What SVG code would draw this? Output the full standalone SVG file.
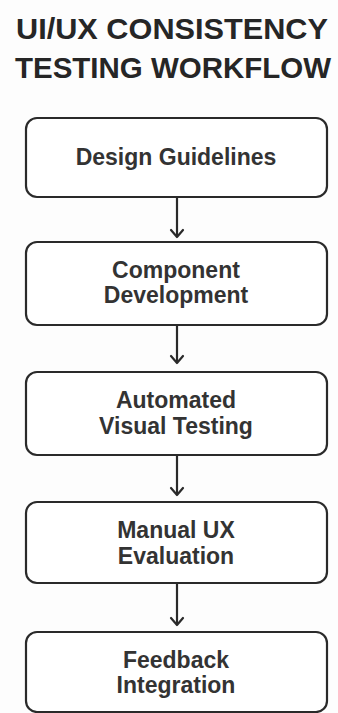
<svg xmlns="http://www.w3.org/2000/svg" width="338" height="713" viewBox="0 0 338 713">
<style>
.title{font-family:"Liberation Sans",Arial,sans-serif;font-weight:bold;font-size:30px;fill:#262626}
.box{fill:#ffffff;stroke:#2a2a2a;stroke-width:2.2}
.lbl{font-family:"Liberation Sans",Arial,sans-serif;font-weight:bold;font-size:23px;fill:#333333;text-anchor:middle}
.conn{stroke:#2a2a2a;stroke-width:2.2;fill:none}
.head{stroke:#2a2a2a;stroke-width:2.2;fill:none;stroke-linecap:round;stroke-linejoin:round}
</style>
<rect width="338" height="713" fill="#fdfdfd"/>
<g id="title">
<text class="title" x="16" y="39" textLength="312" lengthAdjust="spacingAndGlyphs">UI/UX CONSISTENCY</text>
<text class="title" x="15" y="78" textLength="316" lengthAdjust="spacingAndGlyphs">TESTING WORKFLOW</text>
</g>
<g id="connectors">
<line class="conn" x1="177" y1="197" x2="177" y2="236"/>
<polyline class="head" points="171,230 177,237 183,230"/>
<line class="conn" x1="177" y1="325" x2="177" y2="362"/>
<polyline class="head" points="171,356 177,363 183,356"/>
<line class="conn" x1="177" y1="455" x2="177" y2="494"/>
<polyline class="head" points="171,488 177,495 183,488"/>
<line class="conn" x1="177" y1="583" x2="177" y2="624"/>
<polyline class="head" points="171,618 177,625 183,618"/>
</g>
<g id="design-guidelines">
<rect class="box" x="26" y="118" width="301" height="79" rx="11"/>
<text class="lbl" x="176" y="165">Design Guidelines</text>
</g>
<g id="component-development">
<rect class="box" x="26" y="242" width="301" height="83" rx="11"/>
<text class="lbl" x="176" y="278">Component</text>
<text class="lbl" x="176" y="303">Development</text>
</g>
<g id="automated-visual-testing">
<rect class="box" x="26" y="372" width="301" height="83" rx="11"/>
<text class="lbl" x="176" y="408">Automated</text>
<text class="lbl" x="176" y="434">Visual Testing</text>
</g>
<g id="manual-ux-evaluation">
<rect class="box" x="26" y="502" width="301" height="81" rx="11"/>
<text class="lbl" x="176" y="538">Manual UX</text>
<text class="lbl" x="176" y="564">Evaluation</text>
</g>
<g id="feedback-integration">
<rect class="box" x="26" y="632" width="301" height="80" rx="11"/>
<text class="lbl" x="176" y="668">Feedback</text>
<text class="lbl" x="176" y="693">Integration</text>
</g>
</svg>
